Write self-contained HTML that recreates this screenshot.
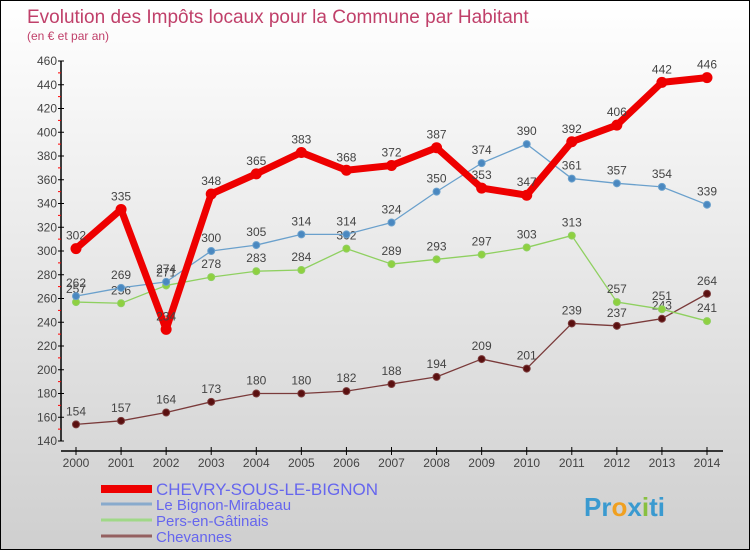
<!DOCTYPE html>
<html><head><meta charset="utf-8"><style>
body{margin:0}
#c{width:750px;height:550px;position:relative;box-sizing:border-box;border:1px solid #000;background:linear-gradient(#ffffff,#cfcfcf);font-family:"Liberation Sans",sans-serif;overflow:hidden}
</style></head><body>
<div id="c">
<svg id="s" width="750" height="550" style="position:absolute;left:0;top:0">
<text x="26" y="22" font-size="19" fill="#c0406a">Evolution des Impôts locaux pour la Commune par Habitant</text>
<text x="26" y="39" font-size="12" fill="#c0406a">(en € et par an)</text>
</svg>
</div>
<script>
const years=["2000","2001","2002","2003","2004","2005","2006","2007","2008","2009","2010","2011","2012","2013","2014"];
const chevry=[302,335,234,348,365,383,368,372,387,353,347,392,406,442,446];
const bignon=[262,269,274,300,305,314,314,324,350,374,390,361,357,354,339];
const pers=[257,256,271,278,283,284,302,289,293,297,303,313,257,251,241];
const chevannes=[154,157,164,173,180,180,182,188,194,209,201,239,237,243,264];
const yTicks=[140,160,180,200,220,240,260,280,300,320,340,360,380,400,420,440,460];
const seriesNames=["CHEVRY-SOUS-LE-BIGNON","Le Bignon-Mirabeau","Pers-en-Gâtinais","Chevannes"];
const NS="http://www.w3.org/2000/svg";
const svg=document.getElementById('s');
const X=i=>75+i*(706-75)/(years.length-1);
const Y=v=>60+(460-v)*380/320;
function mk(t,a,p){const e=document.createElementNS(NS,t);for(const k in a)e.setAttribute(k,a[k]);(p||svg).appendChild(e);return e;}
// axes
let ax=mk('line',{x1:60,y1:60,x2:60,y2:440,stroke:'#000','stroke-width':1.5});


let bx=mk('line',{x1:60,y1:450,x2:722,y2:450,stroke:'#000','stroke-width':1.5});


yTicks.forEach(v=>{
 mk('line',{x1:57,y1:Y(v),x2:63,y2:Y(v),stroke:'#000'});
 if(v<460)mk('line',{x1:57,y1:Y(v+10),x2:60,y2:Y(v+10),stroke:'#f00'});
 const t=mk('text',{x:56,y:Y(v)+4,'text-anchor':'end','font-size':12,fill:'#444'});t.textContent=v;
 
 
});
years.forEach((y,i)=>{
 mk('line',{x1:X(i),y1:446,x2:X(i),y2:454,stroke:'#000'});
 const t=mk('text',{x:X(i),y:466,'text-anchor':'middle','font-size':12,fill:'#444'});t.textContent=y;
 
 
});
function series(vals,color,w,r,ptFill,name){
 const g=mk('g',{});
 
 
 mk('polyline',{points:vals.map((v,i)=>X(i)+','+Y(v)).join(' '),fill:'none',stroke:color,'stroke-width':w,'stroke-linejoin':'round'},g);
 vals.forEach((v,i)=>{
  const c=mk('circle',{cx:X(i),cy:Y(v),r:r,fill:ptFill,stroke:color,'stroke-width':1},g);
  
  
  const t=mk('text',{x:X(i),y:Y(v)-9,'text-anchor':'middle','font-size':12,fill:'#444'},g);t.textContent=v;
  
  
 });
}
series(chevannes,'#7a3a3a',1.3,3.5,'#5a1010','series-chevannes');
series(pers,'#8fd060',1.3,3.5,'#8fd040','series-pers');
series(bignon,'#6aa0cc',1.3,3.5,'#4a88c0','series-bignon');
series(chevry,'#ee0000',7,5,'#ee0000','series-chevry');
// legend
const lc=['#ee0000','#88aacc','#a0d888','#946060'],lw=[8,3,3,3],ls=[17,15,15,15];
const ly=[493,508,524,540];
seriesNames.forEach((n,i)=>{
 const l=mk('line',{x1:100,y1:ly[i]-5,x2:151,y2:ly[i]-5,stroke:lc[i],'stroke-width':lw[i]});
 
 
 const t=mk('text',{x:155,y:ly[i]+1,'font-size':ls[i],fill:'#6666ee'});t.textContent=n;
 
 
});
const p=mk('text',{x:583,y:515,'font-size':26,'font-weight':'bold',fill:'#3a9ad0'});
p.innerHTML='<tspan fill="#3a9ad0">Pr</tspan><tspan fill="#f0a020">o</tspan><tspan fill="#3a9ad0">x</tspan><tspan fill="#88c040">i</tspan><tspan fill="#3a9ad0">ti</tspan>';


</script>
</body></html>
